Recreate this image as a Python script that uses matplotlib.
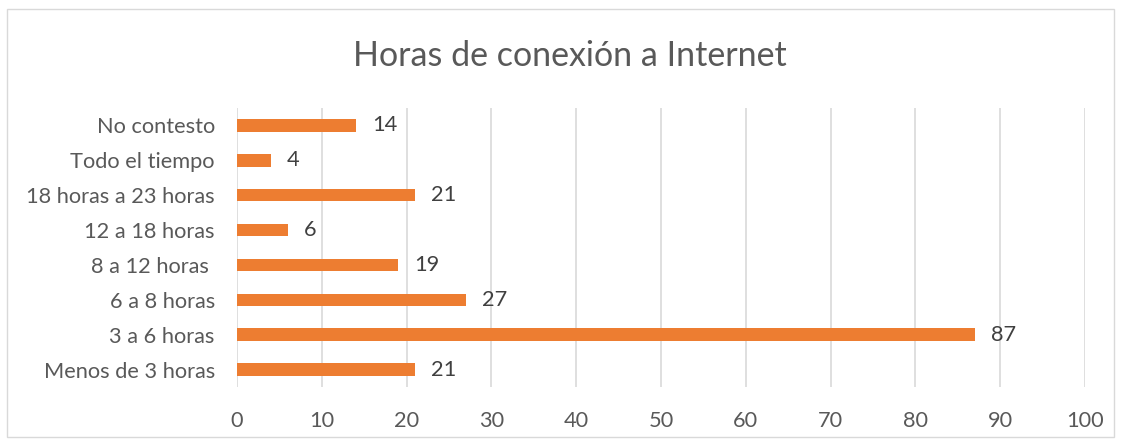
import matplotlib
matplotlib.use("Agg")
import matplotlib.pyplot as plt
from matplotlib.patches import Rectangle

categories = ["Menos de 3 horas", "3 a 6 horas", "6 a 8 horas", "8 a 12 horas ",
              "12 a 18 horas", "18 horas a 23 horas", "Todo el tiempo", "No contesto"]
values = [21, 87, 27, 19, 6, 21, 4, 14]
xticks = list(range(0, 101, 10))
title = "Horas de conexión a Internet"

plt.rcParams['font.family'] = ['Lato', 'DejaVu Sans']

fig = plt.figure(figsize=(11.21, 4.44), dpi=100)
fig.patches.append(Rectangle((7/1121, 1 - 437/444), 1107/1121, 428/444,
                             transform=fig.transFigure, fill=False,
                             edgecolor="#D9D9D9", linewidth=1))
ax = fig.add_axes([237/1121, 57/444, 848/1121, 279/444])

y = list(range(len(categories)))
ax.barh(y, values, height=0.36, color="#ED7D31", zorder=3)
for yi, v in zip(y, values):
    ax.annotate(str(v), (v, yi), xytext=(11.5, 0), textcoords="offset points",
                va="center", ha="left", fontsize=15.7, color="#404040")

ax.set_xlim(0, 100)
ax.set_ylim(-0.5, len(categories) - 0.5)
ax.set_xticks(xticks)
ax.set_yticks(y)
ax.set_yticklabels(categories)
ax.grid(axis="x", color="#D9D9D9", linewidth=1.2, zorder=0)
for s in ax.spines.values():
    s.set_visible(False)
ax.tick_params(axis="both", length=0, labelsize=15.7, colors="#595959")
ax.tick_params(axis="y", pad=16)
ax.tick_params(axis="x", pad=17)

fig.text(570/1121, 1 - 56/444, title, ha="center", va="center",
         fontsize=24.5, color="#595959")

fig.savefig("out.png", dpi=100)
